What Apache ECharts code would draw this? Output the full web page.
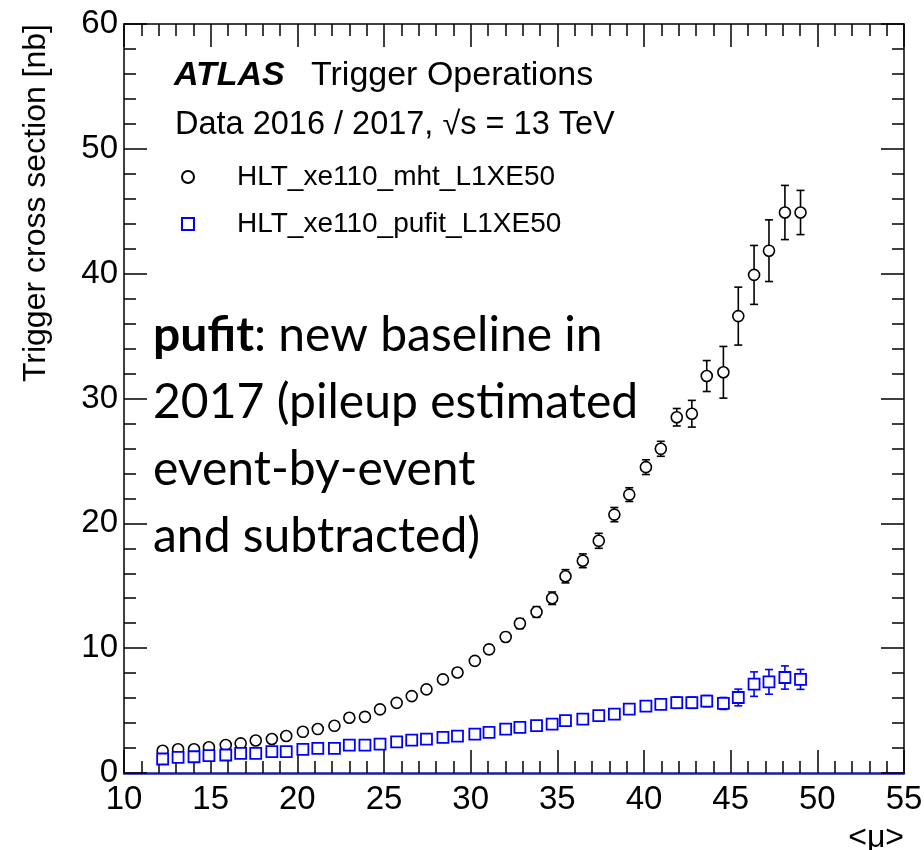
<!DOCTYPE html>
<html>
<head>
<meta charset="utf-8">
<script src="https://cdn.jsdelivr.net/npm/echarts@6/dist/echarts.min.js"></script>
<style>
  html, body { margin: 0; padding: 0; background: #fff; }
  #chart { width: 924px; height: 850px; }
</style>
</head>
<body>
<div id="chart"></div>
<script>
// <mu> bin centres shared by both triggers
const muBins = [12.23, 13.12, 14.04, 14.90, 15.87, 16.73, 17.60, 18.53, 19.36, 20.32,
                21.18, 22.14, 23.00, 23.90, 24.77, 25.73, 26.60, 27.45, 28.40, 29.24,
                30.24, 31.06, 32.02, 32.84, 33.80, 34.70, 35.47, 36.47, 37.39, 38.29,
                39.15, 40.11, 40.97, 41.89, 42.76, 43.62, 44.58, 45.44, 46.35, 47.21,
                48.13, 49.03];

// HLT_xe110_mht_L1XE50 cross section [nb] and its uncertainty
const mhtXsec = [1.78, 1.90, 1.90, 2.06, 2.24, 2.37, 2.60, 2.72, 2.96, 3.30,
                 3.52, 3.78, 4.43, 4.50, 5.10, 5.62, 6.16, 6.70, 7.50, 8.05,
                 8.98, 9.90, 10.90, 11.97, 12.90, 14.00, 15.76, 17.00, 18.60, 20.70,
                 22.30, 24.50, 25.97, 28.50, 28.78, 31.80, 32.10, 36.60, 39.90, 41.84,
                 44.90, 44.90];
const mhtErr = [0.25, 0.20, 0.20, 0.20, 0.20, 0.20, 0.20, 0.20, 0.20, 0.20,
                0.20, 0.20, 0.25, 0.25, 0.25, 0.25, 0.25, 0.30, 0.30, 0.30,
                0.30, 0.35, 0.35, 0.40, 0.43, 0.50, 0.53, 0.55, 0.60, 0.57,
                0.55, 0.59, 0.60, 0.70, 1.07, 1.24, 2.07, 2.32, 2.36, 2.47,
                2.17, 1.77];

// HLT_xe110_pufit_L1XE50 cross section [nb] and its uncertainty
const pufitXsec = [1.12, 1.25, 1.30, 1.39, 1.44, 1.57, 1.57, 1.71, 1.71, 1.90,
                   1.97, 1.97, 2.24, 2.24, 2.32, 2.50, 2.64, 2.72, 2.85, 2.96,
                   3.12, 3.25, 3.52, 3.65, 3.79, 3.92, 4.19, 4.32, 4.59, 4.72,
                   5.12, 5.36, 5.49, 5.63, 5.63, 5.76, 5.57, 6.05, 7.12, 7.30,
                   7.65, 7.50];
const pufitErr = [0.30, 0.15, 0.15, 0.15, 0.15, 0.15, 0.15, 0.15, 0.15, 0.15,
                  0.15, 0.15, 0.15, 0.15, 0.15, 0.15, 0.15, 0.15, 0.15, 0.15,
                  0.15, 0.15, 0.20, 0.20, 0.20, 0.20, 0.20, 0.20, 0.20, 0.20,
                  0.25, 0.25, 0.25, 0.45, 0.45, 0.45, 0.48, 0.67, 0.98, 0.99,
                  0.93, 0.80];

const seriesNames = ['HLT_xe110_mht_L1XE50', 'HLT_xe110_pufit_L1XE50'];
const xTicks = { min: 10, max: 55, step: 5 };
const yTicks = { min: 0, max: 60, step: 10 };

const HELV = '"Liberation Sans", Arial, Helvetica, sans-serif';

function points(ys) { return muBins.map((m, i) => [m, ys[i]]); }
function withErr(ys, es) { return muBins.map((m, i) => [m, ys[i], es[i]]); }

// vertical error bar with small caps, drawn under the markers
function errorBars(color) {
  return function (params, api) {
    const x = api.value(0), y = api.value(1), e = api.value(2);
    const lo = api.coord([x, y - e]);
    const hi = api.coord([x, y + e]);
    const cap = 4;
    const st = { stroke: color, lineWidth: 1.6 };
    return {
      type: 'group',
      children: [
        { type: 'line', shape: { x1: lo[0], y1: lo[1], x2: hi[0], y2: hi[1] }, style: st },
        { type: 'line', shape: { x1: lo[0] - cap, y1: lo[1], x2: lo[0] + cap, y2: lo[1] }, style: st },
        { type: 'line', shape: { x1: hi[0] - cap, y1: hi[1], x2: hi[0] + cap, y2: hi[1] }, style: st }
      ]
    };
  };
}

function frameStyle() { return { color: '#000', width: 1.5 }; }

// one side of the frame: ticks point inwards, labels only on bottom/left
function frameAxis(range, position, showLabels, lineColor, lineWidth) {
  return {
    type: 'value',
    position: position,
    min: range.min, max: range.max, interval: range.step,
    axisLine: { show: true, onZero: false, lineStyle: { color: lineColor || '#000', width: lineWidth || 1.5 } },
    axisTick: { show: true, inside: true, length: 23, lineStyle: frameStyle() },
    minorTick: { show: true, splitNumber: 5, length: 12, lineStyle: frameStyle() },
    splitLine: { show: false },
    axisLabel: {
      show: true,
      color: showLabels ? '#000' : 'rgba(0,0,0,0)',
      fontFamily: HELV, fontSize: 33,
      margin: position === 'bottom' ? 10 : 6
    }
  };
}

const chart = echarts.init(document.getElementById('chart'), null, { renderer: 'canvas' });

chart.setOption({
  animation: false,
  backgroundColor: '#fff',
  grid: { left: 124, right: 20, top: 24, bottom: 77, outerBoundsMode: 'none', containLabel: false },
  xAxis: [
    frameAxis(xTicks, 'bottom', true, '#1c1ca6', 2.5),
    frameAxis(xTicks, 'top', false)
  ],
  yAxis: [
    frameAxis(yTicks, 'left', true),
    frameAxis(yTicks, 'right', false)
  ],
  legend: {
    data: seriesNames,
    orient: 'vertical',
    left: 176,
    top: 157,
    itemWidth: 12,
    itemHeight: 12,
    itemGap: 17,
    textStyle: { fontFamily: HELV, fontSize: 28, color: '#000', lineHeight: 30, padding: [0, 0, 0, 38] }
  },
  series: [
    {
      type: 'custom', name: seriesNames[0] + ' errors', xAxisIndex: 0, yAxisIndex: 0,
      data: withErr(mhtXsec, mhtErr), encode: { x: 0, y: 1 },
      renderItem: errorBars('#000'), z: 2, silent: true
    },
    {
      type: 'custom', name: seriesNames[1] + ' errors', xAxisIndex: 0, yAxisIndex: 0,
      data: withErr(pufitXsec, pufitErr), encode: { x: 0, y: 1 },
      renderItem: errorBars('#0000ff'), z: 2, silent: true
    },
    {
      type: 'scatter', name: seriesNames[0], xAxisIndex: 0, yAxisIndex: 0,
      data: points(mhtXsec), symbol: 'circle', symbolSize: 11,
      itemStyle: { color: '#fff', borderColor: '#000', borderWidth: 1.6, opacity: 1 }, z: 3
    },
    {
      type: 'scatter', name: seriesNames[1], xAxisIndex: 0, yAxisIndex: 0,
      data: points(pufitXsec), symbol: 'rect', symbolSize: 11,
      itemStyle: { color: '#fff', borderColor: '#0000ff', borderWidth: 1.8, opacity: 1 }, z: 3
    }
  ],
  graphic: [
    { type: 'text', x: 174, y: 76, style: { text: 'ATLAS', fontFamily: HELV, fontSize: 34, fontWeight: 'bold', fontStyle: 'italic', fill: '#000', textVerticalAlign: 'middle' } },
    { type: 'text', x: 311, y: 76, style: { text: 'Trigger Operations', fontFamily: HELV, fontSize: 34, fill: '#000', textVerticalAlign: 'middle' } },
    { type: 'text', x: 175, y: 125, style: { text: 'Data 2016 / 2017, \u221As = 13 TeV', fontFamily: HELV, fontSize: 32.5, fill: '#000', textVerticalAlign: 'middle' } },
    {
      type: 'text', x: 153, y: 302,
      style: {
        text: '{b|pufit}: new baseline in\n2017 (pileup estimated\nevent-by-event\nand subtracted)',
        fontFamily: 'Lato', fontSize: 48, lineHeight: 67, fill: '#000',
        rich: { b: { fontFamily: 'Lato', fontSize: 48, fontWeight: 'bold', lineHeight: 67, fill: '#000' } }
      }
    },
    { type: 'text', x: 36, y: 24, rotation: Math.PI / 2, style: { text: 'Trigger cross section [nb]', fontFamily: HELV, fontSize: 32, fill: '#000', textAlign: 'right', textVerticalAlign: 'middle' } },
    { type: 'text', x: 904, y: 838, style: { text: '<\u03BC>', fontFamily: HELV, fontSize: 32, fill: '#000', textAlign: 'right', textVerticalAlign: 'middle' } }
  ]
});
</script>
</body>
</html>
